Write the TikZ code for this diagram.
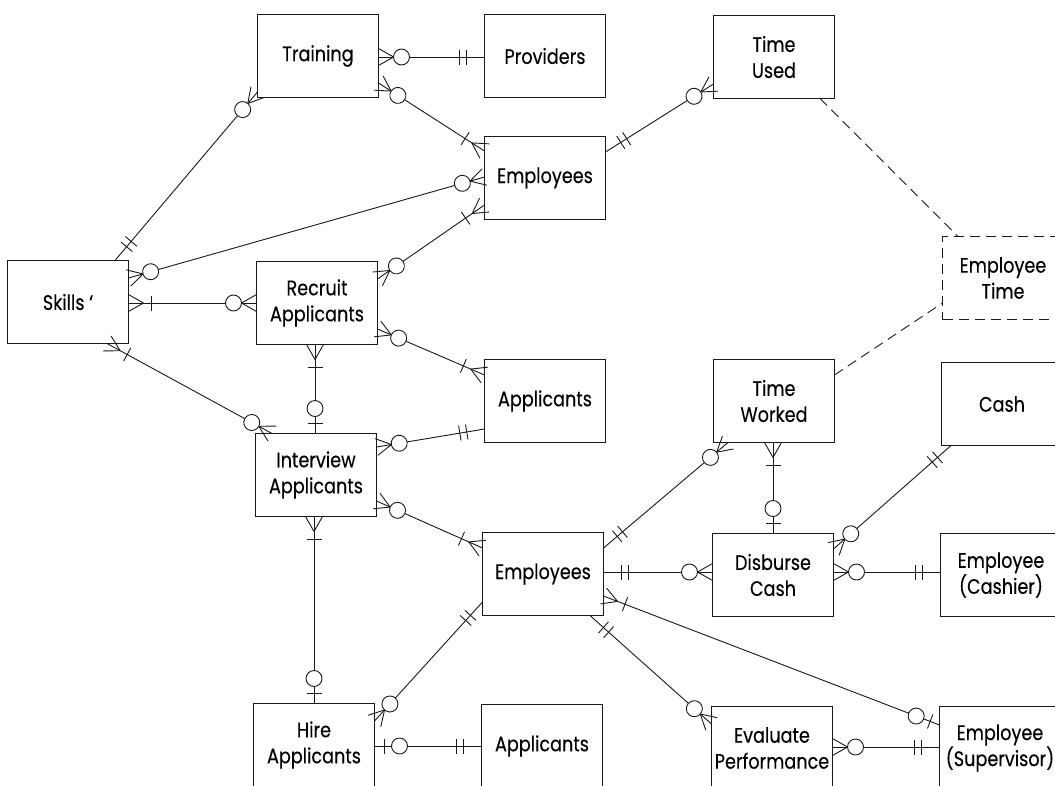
\documentclass[tikz,border=0pt]{standalone}
\usepackage{fontspec}
\setmainfont{Poppins}[FakeStretch=0.84, FakeBold=0.2]
\usetikzlibrary{decorations.markings}

% crow's-foot notation pieces, drawn in the local frame of a connector end
\newcommand\crowfoot{\draw (15pt,0)--(0,8.5pt) (15pt,0)--(0,-8.5pt);}
\newcommand\ringat[1]{\draw[fill=white] (#1,0) circle[radius=8pt];}
\newcommand\barat[1]{\draw (#1,-7.5pt)--(#1,7.5pt);}

\tikzset{
  mstart/.style={postaction={decorate,decoration={markings,
      mark=at position 0 with {#1}}}},
  mend/.style={postaction={decorate,decoration={markings,
      mark=at position 1 with {\begin{scope}[xscale=-1]#1\end{scope}}}}},
  % zero-or-many, one-or-many, exactly-one, zero-or-one
  s0m/.style={mstart={\crowfoot\ringat{23pt}}},
  s1m/.style={mstart={\crowfoot\barat{23pt}}},
  s11/.style={mstart={\barat{18pt}\barat{25pt}}},
  s01/.style={mstart={\barat{10pt}\ringat{25pt}}},
  e0m/.style={mend={\crowfoot\ringat{23pt}}},
  e1m/.style={mend={\crowfoot\barat{23pt}}},
  e11/.style={mend={\barat{18pt}\barat{25pt}}},
  e01/.style={mend={\barat{10pt}\ringat{25pt}}},
  entity/.style={draw, line width=1pt, minimum width=121pt, minimum height=83pt,
      inner sep=2pt, outer sep=0pt, align=center, text=black,
      font=\fontsize{21}{26}\selectfont},
  weak/.style={entity, dash pattern=on 10pt off 6pt},
  rel/.style={line width=0.9pt},
  link/.style={line width=0.9pt, dash pattern=on 10pt off 6pt},
}

\begin{document}
\begin{tikzpicture}[x=1pt, y=-1pt, line width=0.9pt, color=black!90]
\clip (0,0) rectangle (1055,785);
\fill[white] (0,0) rectangle (1055,785);

% entities
\node[entity] (train)     at (318,56)  {Training};
\node[entity] (prov)      at (545,56)  {Providers};
\node[entity] (tused)     at (774,57)  {Time\\Used};
\node[entity] (empA)      at (545,178) {Employees};
\node[weak]   (etime)     at (1003,278) {Employee\\Time};
\node[entity] (skills)    at (68,302)  {Skills \textquoteleft};
\node[entity] (recruit)   at (317,303) {Recruit\\Applicants};
\node[entity] (applA)     at (545,401) {Applicants};
\node[entity] (interview) at (316,475) {Interview\\Applicants};
\node[entity] (tworked)   at (774,401) {Time\\Worked};
\node[entity] (cash)      at (1002,404) {Cash};
\node[entity] (empB)      at (543,574) {Employees};
\node[entity] (disburse)  at (773,575) {Disburse\\Cash};
\node[entity] (cashier)   at (1001,575) {Employee\\(Cashier)};
\node[entity] (hire)      at (314,745) {Hire\\Applicants};
\node[entity] (applB)     at (542,746) {Applicants};
\node[entity] (evalp)     at (772,748) {Evaluate\\Performance};
\node[entity] (super)     at (1000,748) {Employee\\(Supervisor)};

% relationships
\draw[rel,s0m,e11] ([yshift=-1pt]train.east) -- ([yshift=-1pt]prov.west);
\draw[rel,s11,e0m] ([xshift=47pt]skills.north) -- ([yshift=-36pt]train.west);
\draw[rel,s0m,e1m] ([yshift=-27pt]train.east) -- ([yshift=27pt]empA.west);
\draw[rel,s0m,e0m] ([yshift=24pt]skills.east) -- ([yshift=1pt]empA.west);
\draw[rel,s0m,e1m] ([yshift=24pt]recruit.east) -- ([yshift=-27pt]empA.west);
\draw[rel,s1m,e0m] ([yshift=-1pt]skills.east) -- (recruit.west);
\draw[rel,s0m,e1m] ([yshift=-26pt]recruit.east) -- ([yshift=26pt]applA.west);
\draw[rel,s1m,e01] ([xshift=-2pt]recruit.south) -- ([xshift=-1pt]interview.north);
\draw[rel,s1m,e0m] ([xshift=39pt]skills.south) -- ([xshift=-44pt]interview.north);
\draw[rel,s0m,e11] ([yshift=28pt]interview.east) -- ([yshift=-28pt]applA.west);
\draw[rel,s0m,e1m] ([yshift=-26pt]interview.east) -- ([yshift=26pt]empB.west);
\draw[rel,s1m,e01] ([xshift=-2pt]interview.south) -- (hire.north);
\draw[rel,s0m,e11] ([yshift=24pt]hire.east) -- ([yshift=-28pt]empB.west);
\draw[rel,s01,e11] ([yshift=-1pt]hire.east) -- (applB.west);
\draw[rel,s11,e0m] ([yshift=26pt]empB.east) -- ([xshift=-46pt]tworked.south);
\draw[rel,s11,e0m] ([yshift=2pt]empB.east) -- ([yshift=3pt]disburse.west);
\draw[rel,s1m,e01] ([yshift=-22pt]empB.east) -- ([yshift=23pt]super.west);
\draw[rel,s11,e0m] ([xshift=47pt]empB.south) -- ([yshift=24pt]evalp.west);
\draw[rel,s0m,e11] ([yshift=1pt]evalp.east) -- ([yshift=1pt]super.west);
\draw[rel,s1m,e01] ([xshift=-1pt]tworked.south) -- (disburse.north);
\draw[rel,s0m,e11] ([yshift=26pt]disburse.east) -- ([xshift=-51pt]cash.south);
\draw[rel,s0m,e11] ([yshift=3pt]disburse.east) -- ([yshift=3pt]cashier.west);
\draw[rel,s11,e0m] ([yshift=26pt]empA.east) -- ([yshift=-27pt]tused.west);

% dashed links to the shared time entity
\draw[link] ([xshift=46pt]tused.south) -- ([xshift=-45pt]etime.north);
\draw[link] ([yshift=26pt]tworked.east) -- ([yshift=-25pt]etime.west);
\end{tikzpicture}
\end{document}
